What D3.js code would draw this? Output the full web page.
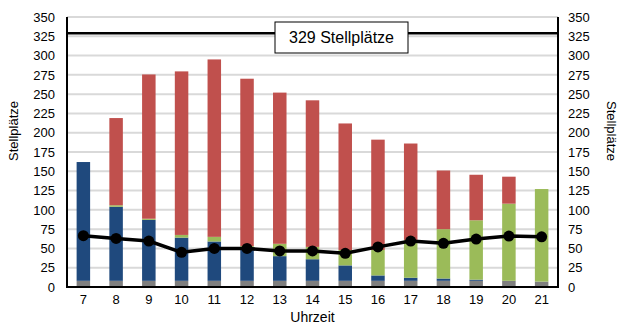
<!DOCTYPE html>
<html>
<head>
<meta charset="utf-8">
<script src="https://cdn.jsdelivr.net/npm/d3@7"></script>
<style>
  body { margin: 0; background: #fff; }
  text { font-family: "Liberation Sans", Arial, sans-serif; fill: #000; }
</style>
</head>
<body>
<svg id="chart" width="619" height="326"></svg>
<script>
// Hours of the day
const hours = ["7","8","9","10","11","12","13","14","15","16","17","18","19","20","21"];
// Stacked occupancy segments (bottom to top)
const grau  = [8, 8, 8, 8, 8, 8, 8, 8, 8, 8, 8, 8, 8, 8, 7];
const blau  = [154, 96, 79, 56, 51, 40, 32, 28, 20, 7, 4, 3, 1.5, 0, 0];
const gruen = [0, 2, 1.5, 3.5, 6, 5, 16, 16, 20, 33, 49, 64, 77, 100, 120];
const rot   = [0, 113, 187, 212, 230, 217, 196, 190, 164, 143, 125, 76, 59, 35, 0];
// Line series
const linie = [66.5, 63, 59.6, 45, 50, 50, 46.7, 46.7, 43.7, 52, 59.6, 56.6, 62.2, 66, 65];
// Capacity
const kapazitaet = 329;
const yTicks = [0,25,50,75,100,125,150,175,200,225,250,275,300,325,350];

const svg = d3.select("#chart");
const m = { left: 67, right: 558, top: 17, bottom: 287 };

const xc = d3.scaleBand().domain(hours).range([m.left, m.right]);
const y = d3.scaleLinear().domain([0, 350]).range([m.bottom, m.top]);

// Gridlines
svg.append("g").selectAll("line").data(yTicks.filter(d => d > 0)).join("line")
  .attr("x1", m.left).attr("x2", m.right)
  .attr("y1", d => y(d)).attr("y2", d => y(d))
  .attr("stroke", "#d9d9d9").attr("stroke-width", 2);

// Stacked bars
const rows = hours.map((h, i) => ({ h, grau: grau[i], blau: blau[i], gruen: gruen[i], rot: rot[i] }));
const keys = ["grau", "blau", "gruen", "rot"];
const colors = { grau: "#7f7f7f", blau: "#1f497d", gruen: "#9bbb59", rot: "#c0504d" };
const stack = d3.stack().keys(keys)(rows);
const bw = 13.5;
svg.append("g").selectAll("g").data(stack).join("g")
  .attr("fill", s => colors[s.key])
  .selectAll("rect").data(s => s).join("rect")
  .attr("x", d => xc(d.data.h) + xc.bandwidth() / 2 - bw / 2)
  .attr("width", bw)
  .attr("y", d => y(d[1]))
  .attr("height", d => Math.max(0, y(d[0]) - y(d[1])));

// Capacity line
svg.append("line")
  .attr("x1", m.left).attr("x2", m.right)
  .attr("y1", y(kapazitaet)).attr("y2", y(kapazitaet))
  .attr("stroke", "#000").attr("stroke-width", 2.5);

// Capacity label box
const bx = 275, bwid = 133, by = 22, bh = 31;
svg.append("rect").attr("x", bx).attr("y", by).attr("width", bwid).attr("height", bh)
  .attr("fill", "#fff").attr("stroke", "#000").attr("stroke-width", 1);
svg.append("text").attr("x", bx + bwid / 2).attr("y", by + bh / 2 + 5.5)
  .attr("text-anchor", "middle").style("font-size", "16px")
  .text(kapazitaet + " Stellplätze");

// Line with markers
const pts = hours.map((h, i) => [xc(h) + xc.bandwidth() / 2, y(linie[i])]);
svg.append("path").attr("d", d3.line()(pts))
  .attr("fill", "none").attr("stroke", "#000").attr("stroke-width", 3.5).attr("stroke-linejoin", "round");
svg.append("g").selectAll("circle").data(pts).join("circle")
  .attr("cx", d => d[0]).attr("cy", d => d[1]).attr("r", 5.5).attr("fill", "#000");

// Axes frame
svg.append("line").attr("x1", m.left).attr("x2", m.left).attr("y1", m.top).attr("y2", m.bottom + 1)
  .attr("stroke", "#000").attr("stroke-width", 2);
svg.append("line").attr("x1", m.right).attr("x2", m.right).attr("y1", m.top).attr("y2", m.bottom + 1)
  .attr("stroke", "#000").attr("stroke-width", 2);
svg.append("line").attr("x1", m.left - 1).attr("x2", m.right + 1).attr("y1", m.bottom).attr("y2", m.bottom)
  .attr("stroke", "#000").attr("stroke-width", 2);

// Tick labels
const leftAxis = d3.axisLeft(y).tickValues(yTicks).tickSize(0).tickPadding(12);
const gl = svg.append("g").attr("transform", `translate(${m.left},0)`).call(leftAxis);
gl.select(".domain").remove();
gl.selectAll("text").style("font-size", "13px").style("font-family", "Liberation Sans, Arial, sans-serif");

const rightAxis = d3.axisRight(y).tickValues(yTicks).tickSize(0).tickPadding(10);
const gr = svg.append("g").attr("transform", `translate(${m.right},0)`).call(rightAxis);
gr.select(".domain").remove();
gr.selectAll("text").style("font-size", "13px").style("font-family", "Liberation Sans, Arial, sans-serif");

const bottomAxis = d3.axisBottom(xc).tickSize(0).tickPadding(8);
const gb = svg.append("g").attr("transform", `translate(0,${m.bottom})`).call(bottomAxis);
gb.select(".domain").remove();
gb.selectAll("text").style("font-size", "13px").style("font-family", "Liberation Sans, Arial, sans-serif");

// Axis titles
svg.append("text").attr("transform", "translate(18,131) rotate(-90)")
  .attr("text-anchor", "middle").style("font-size", "13px").text("Stellplätze");
svg.append("text").attr("transform", "translate(607,131) rotate(90)")
  .attr("text-anchor", "middle").style("font-size", "13px").text("Stellplätze");
svg.append("text").attr("x", (m.left + m.right) / 2).attr("y", 322)
  .attr("text-anchor", "middle").style("font-size", "14px").text("Uhrzeit");
</script>
</body>
</html>
